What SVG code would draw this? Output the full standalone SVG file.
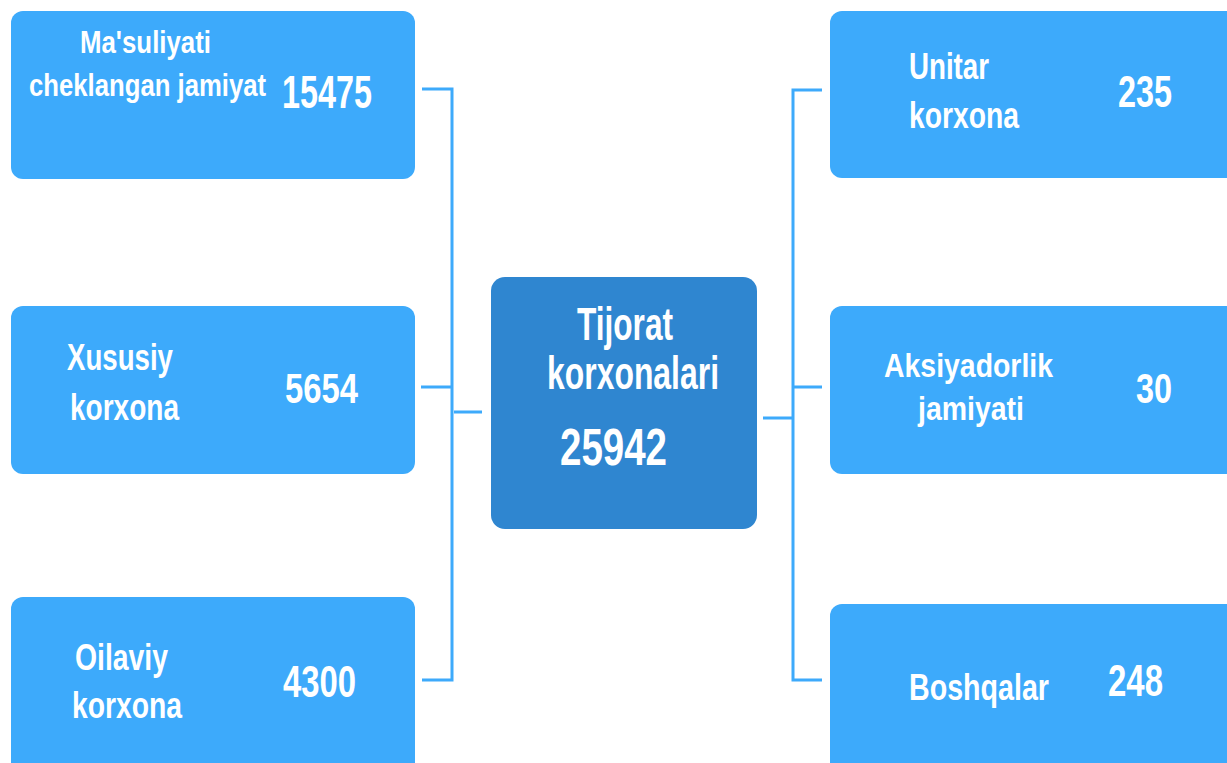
<svg xmlns="http://www.w3.org/2000/svg" width="1227" height="763" viewBox="0 0 1227 763">
<style>
.box{fill:#3DAAFB}
.main{fill:#2F86D0}
.t{font-family:"Liberation Sans Narrow","Liberation Sans",Arial,sans-serif;font-weight:bold;fill:#FFFFFF}
.c{fill:none;stroke:#3DAAFB;stroke-width:3}
</style>
<rect width="1227" height="763" fill="#FFFFFF"/>
<g id="connectors">
<path class="c" d="M422 89H452V680H422M421 387H452M454 412H482"/>
<path class="c" d="M822 90H793V680H822M793 387H822M763 418H793"/>
</g>
<g id="center">
<rect class="main" x="491" y="277" width="266" height="252" rx="14"/>
<text class="t" x="577" y="340" font-size="46" textLength="96" lengthAdjust="spacingAndGlyphs">Tijorat</text>
<text class="t" x="547" y="389" font-size="46" textLength="172" lengthAdjust="spacingAndGlyphs">korxonalari</text>
<text class="t" x="560" y="465" font-size="52" textLength="107" lengthAdjust="spacingAndGlyphs">25942</text>
</g>
<g id="mchj">
<rect class="box" x="11" y="11" width="404" height="168" rx="12"/>
<text class="t" x="80" y="53" font-size="31" textLength="131" lengthAdjust="spacingAndGlyphs">Ma'suliyati</text>
<text class="t" transform="translate(29,96) scale(0.78,1)" x="0" y="0" font-size="31" textLength="304" lengthAdjust="spacingAndGlyphs">cheklangan jamiyat</text>
<text class="t" x="282" y="108" font-size="46" textLength="90" lengthAdjust="spacingAndGlyphs">15475</text>
</g>
<g id="xususiy">
<rect class="box" x="11" y="306" width="404" height="168" rx="12"/>
<text class="t" x="67" y="370" font-size="37" textLength="106" lengthAdjust="spacingAndGlyphs">Xususiy</text>
<text class="t" x="70" y="420" font-size="37" textLength="109" lengthAdjust="spacingAndGlyphs">korxona</text>
<text class="t" x="285" y="403" font-size="43" textLength="73" lengthAdjust="spacingAndGlyphs">5654</text>
</g>
<g id="oilaviy">
<rect class="box" x="11" y="597" width="404" height="190" rx="12"/>
<text class="t" x="75" y="670" font-size="36" textLength="93" lengthAdjust="spacingAndGlyphs">Oilaviy</text>
<text class="t" x="72" y="718" font-size="37" textLength="110" lengthAdjust="spacingAndGlyphs">korxona</text>
<text class="t" x="283" y="697" font-size="44" textLength="73" lengthAdjust="spacingAndGlyphs">4300</text>
</g>
<g id="unitar">
<rect class="box" x="830" y="11" width="420" height="167" rx="12"/>
<text class="t" x="909" y="79" font-size="36" textLength="80" lengthAdjust="spacingAndGlyphs">Unitar</text>
<text class="t" x="909" y="128" font-size="37" textLength="110" lengthAdjust="spacingAndGlyphs">korxona</text>
<text class="t" x="1118" y="107" font-size="44" textLength="54" lengthAdjust="spacingAndGlyphs">235</text>
</g>
<g id="aksiyadorlik">
<rect class="box" x="830" y="306" width="420" height="168" rx="12"/>
<text class="t" x="884" y="377" font-size="34" textLength="169" lengthAdjust="spacingAndGlyphs">Aksiyadorlik</text>
<text class="t" x="918" y="420" font-size="34" textLength="106" lengthAdjust="spacingAndGlyphs">jamiyati</text>
<text class="t" x="1136" y="403" font-size="43" textLength="36" lengthAdjust="spacingAndGlyphs">30</text>
</g>
<g id="boshqalar">
<rect class="box" x="830" y="604" width="420" height="190" rx="12"/>
<text class="t" x="909" y="700" font-size="36" textLength="140" lengthAdjust="spacingAndGlyphs">Boshqalar</text>
<text class="t" x="1108" y="696" font-size="44" textLength="55" lengthAdjust="spacingAndGlyphs">248</text>
</g>
</svg>
